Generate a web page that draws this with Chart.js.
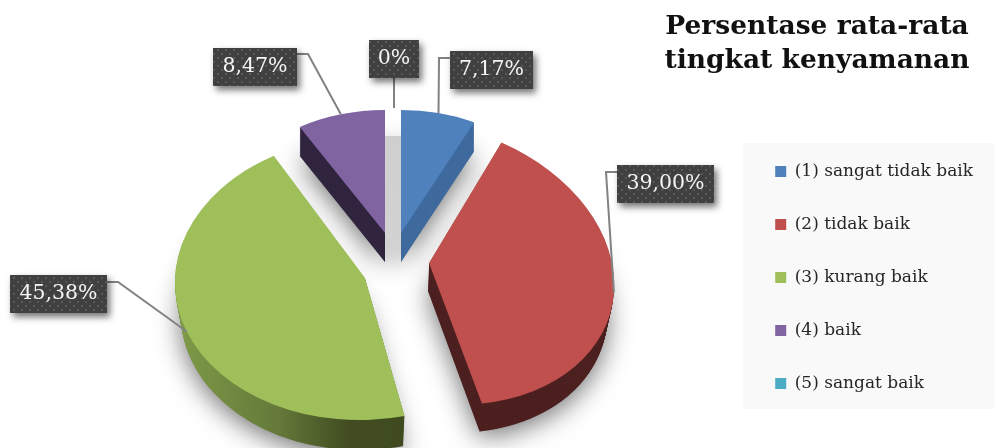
<!DOCTYPE html>
<html lang="id">
<head>
  <meta charset="UTF-8">
  <title>Persentase rata-rata tingkat kenyamanan</title>
  <style>
    html, body { margin: 0; padding: 0; background: #fff; overflow: hidden; }
    canvas { display: block; }
  </style>
</head>
<body>
  <canvas id="pieChart" width="995" height="448"></canvas>
  <script src="https://cdn.jsdelivr.net/npm/chart.js"></script>
  <script>
    const categories = ['(1) sangat tidak baik', '(2) tidak baik', '(3) kurang baik', '(4) baik', '(5) sangat baik'];
    const values = [7.17, 39.00, 45.38, 8.47, 0];
    const sliceColors = ['#4f81bd', '#c0504d', '#9fbf5b', '#8064a2', '#4bacc6'];
    const titleLines = ['Persentase rata-rata', 'tingkat kenyamanan'];

    const serif = '"DejaVu Serif", "Liberation Serif", serif';

    // Tilted view of each exploded slice: a,b,c,d map the unit circle, x/y is the tip
    const views = [
      { x: 401, y: 233, a: 168, b: 0, c: 0, d: 123, depth: 29, drift: 0, shrink: 0 },
      { x: 429, y: 263, a: 185, b: 9, c: 15, d: 141, depth: 28, drift: -1, shrink: 0.03 },
      { x: 365, y: 278, a: 190, b: -6, c: 0, d: 142, depth: 30, drift: 0, shrink: 0.03 },
      { x: 385, y: 233, a: 168, b: 0, c: 0, d: 123, depth: 29, drift: 0, shrink: 0 },
      { x: 394, y: 233, a: 168, b: 0, c: 0, d: 125, depth: 0, drift: 0, shrink: 0 }
    ];

    const wallColors = ['#3f6a9e', '#4d2020', null, '#30243f', '#3a8ca3'];

    // Callout boxes, in the same order as the slices
    const callouts = [
      { x: 450, y: 51, w: 83, h: 38, elbow: [[450, 58], [439, 58]] },
      { x: 617, y: 165, w: 97, h: 38, elbow: [[617, 172], [606, 172]] },
      { x: 10, y: 275, w: 97, h: 38, elbow: [[107, 282], [118, 282]] },
      { x: 213, y: 48, w: 84, h: 38, elbow: [[297, 54], [308, 54]] },
      { x: 369, y: 40, w: 50, h: 38, elbow: [[394, 78]] }
    ];

    function valueLabel(v) {
      return v === 0 ? '0%' : v.toFixed(2).replace('.', ',') + '%';
    }

    function dotPattern(ctx) {
      const tile = document.createElement('canvas');
      tile.width = tile.height = 8;
      const t = tile.getContext('2d');
      t.fillStyle = '#404040';
      t.fillRect(0, 0, 8, 8);
      t.fillStyle = 'rgba(255,255,255,0.13)';
      t.fillRect(1, 1, 2, 2);
      t.fillRect(5, 5, 2, 2);
      return ctx.createPattern(tile, 'repeat');
    }

    // Fills the slice shape at a fraction t of the way down its side wall
    function sliceAt(ctx, arc, view, t) {
      const k = 1 - view.shrink * t;
      ctx.setTransform(view.a * k, view.c, view.b, view.d, view.x + view.drift * t, view.y + view.depth * t);
      ctx.beginPath();
      ctx.moveTo(0, 0);
      ctx.arc(0, 0, 1, arc.startAngle, arc.endAngle);
      ctx.closePath();
      ctx.setTransform(1, 0, 0, 1, 0, 0);
    }

    const pie3d = {
      id: 'pie3d',
      beforeDraw(chart) {
        const ctx = chart.ctx;
        ctx.save();
        ctx.fillStyle = '#f9f9f9';
        ctx.fillRect(743, 143, 252, 266);
        ctx.restore();
      },
      // The library arcs are drawn by hand here, each one under its own view
      beforeDatasetDraw(chart, args) {
        const ctx = chart.ctx;
        const arcs = args.meta.data;

        // soft shadows go under everything
        arcs.forEach((arc, i) => {
          if (!values[i]) return;
          ctx.save();
          ctx.shadowColor = 'rgba(0,0,0,0.55)';
          ctx.shadowBlur = 26;
          ctx.shadowOffsetX = 0;
          ctx.shadowOffsetY = 6;
          ctx.fillStyle = '#999';
          sliceAt(ctx, arc, views[i], 1);
          ctx.fill();
          ctx.restore();
        });

        // grey strip showing through the gap between the two small slices
        const strip = ctx.createLinearGradient(0, 136, 0, 262);
        strip.addColorStop(0, '#cfcfcf');
        strip.addColorStop(0.85, '#d2d2d2');
        strip.addColorStop(1, 'rgba(225,225,225,0)');
        ctx.fillStyle = strip;
        ctx.fillRect(views[3].x, 136, views[0].x - views[3].x, 126);

        arcs.forEach((arc, i) => {
          if (!values[i]) return;
          const view = views[i];
          ctx.save();
          if (wallColors[i]) {
            ctx.fillStyle = wallColors[i];
          } else {
            const g = ctx.createLinearGradient(175, 0, 405, 0);
            g.addColorStop(0, '#7f9b48');
            g.addColorStop(0.45, '#64793a');
            g.addColorStop(0.75, '#414d20');
            g.addColorStop(1, '#3f4a20');
            ctx.fillStyle = g;
          }
          for (let s = view.depth; s > 0; s--) {
            sliceAt(ctx, arc, view, s / view.depth);
            ctx.fill();
          }
          ctx.restore();

          const R = arc.outerRadius;
          ctx.save();
          ctx.setTransform(view.a / R, view.c / R, view.b / R, view.d / R, view.x, view.y);
          ctx.translate(-arc.x, -arc.y);
          arc.draw(ctx);
          ctx.restore();
        });
        return false;
      },
      afterDraw(chart) {
        const ctx = chart.ctx;
        const arcs = chart.getDatasetMeta(0).data;
        const pattern = dotPattern(ctx);

        arcs.forEach((arc, i) => {
          const view = views[i];
          const box = callouts[i];
          const mid = (arc.startAngle + arc.endAngle) / 2;
          const ux = Math.cos(mid);
          const uy = Math.sin(mid);
          ctx.save();
          ctx.strokeStyle = '#828282';
          ctx.lineWidth = 2;
          ctx.beginPath();
          box.elbow.forEach((p, n) => (n ? ctx.lineTo(p[0], p[1]) : ctx.moveTo(p[0], p[1])));
          ctx.lineTo(view.x + view.a * ux + view.b * uy, view.y + view.c * ux + view.d * uy);
          ctx.stroke();
          ctx.restore();

          ctx.save();
          ctx.shadowColor = 'rgba(0,0,0,0.55)';
          ctx.shadowBlur = 7;
          ctx.shadowOffsetX = 3;
          ctx.shadowOffsetY = 4;
          ctx.fillStyle = pattern;
          ctx.fillRect(box.x, box.y, box.w, box.h);
          ctx.restore();

          ctx.save();
          ctx.fillStyle = '#f4f4f4';
          ctx.font = '20.5px ' + serif;
          ctx.textAlign = 'center';
          ctx.textBaseline = 'middle';
          ctx.fillText(valueLabel(values[i]), box.x + box.w / 2, box.y + box.h / 2);
          ctx.restore();
        });

        // chart title, centred over the legend
        ctx.save();
        ctx.fillStyle = '#111';
        ctx.font = 'bold 26.5px ' + serif;
        ctx.textAlign = 'center';
        ctx.fillText(titleLines[0], 817, 34);
        ctx.fillText(titleLines[1], 817, 68);
        ctx.restore();
      }
    };

    new Chart(document.getElementById('pieChart'), {
      type: 'pie',
      data: {
        labels: categories,
        datasets: [{ data: values, backgroundColor: sliceColors, borderWidth: 0 }]
      },
      options: {
        responsive: false,
        animation: false,
        layout: { padding: { top: 107, right: 12 } },
        plugins: {
          tooltip: { enabled: false },
          legend: {
            position: 'right',
            labels: {
              boxWidth: 11,
              boxHeight: 11,
              padding: 36,
              color: '#262626',
              font: { family: serif, size: 17 }
            }
          }
        }
      },
      plugins: [pie3d]
    });
  </script>
</body>
</html>
